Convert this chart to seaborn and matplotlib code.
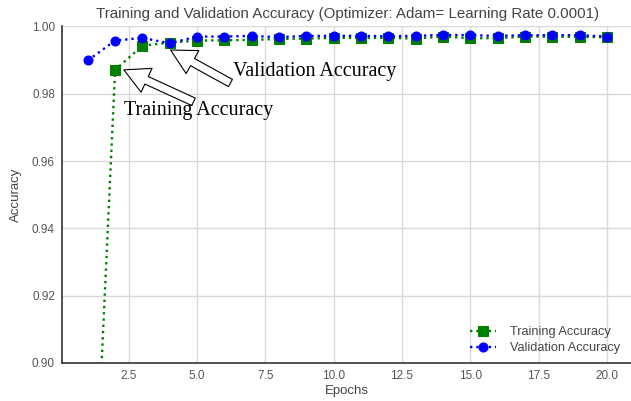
import matplotlib
matplotlib.use("Agg")
import matplotlib.pyplot as plt
import seaborn as sns
import pandas as pd

# Per-epoch accuracy history
epochs = list(range(1, 21))
train_acc = [0.8105, 0.9871, 0.9943, 0.9952, 0.9958, 0.9959, 0.9960, 0.9963, 0.9964, 0.9966,
             0.9966, 0.9966, 0.9964, 0.9970, 0.9965, 0.9965, 0.9970, 0.9970, 0.9969, 0.9968]
val_acc = [0.9899, 0.9958, 0.9966, 0.9950, 0.9970, 0.9970, 0.9972, 0.9968, 0.9972, 0.9972,
           0.9972, 0.9971, 0.9972, 0.9975, 0.9974, 0.9972, 0.9974, 0.9974, 0.9974, 0.9970]
y_ticks = [0.90, 0.92, 0.94, 0.96, 0.98, 1.00]

sns.set_theme(style="whitegrid")
plt.rcParams["font.family"] = ["Liberation Sans", "DejaVu Sans"]

df = pd.DataFrame({"Epochs": epochs, "train": train_acc, "val": val_acc})

fig = plt.figure(figsize=(6.31, 4.01), dpi=100)
ax = fig.add_axes([0.098, 0.095, 0.905, 0.839])

sns.lineplot(data=df, x="Epochs", y="train", ax=ax, color="green", marker="s",
             linestyle=":", linewidth=1.7, markersize=6.5, mec="green", mfc="green",
             label="Training Accuracy")
sns.lineplot(data=df, x="Epochs", y="val", ax=ax, color="blue", marker="o",
             linestyle=":", linewidth=1.7, markersize=6.5, mec="blue", mfc="blue",
             label="Validation Accuracy")

ax.set_ylim(0.90, 1.00)
ax.set_yticks(y_ticks)
ax.set_yticklabels([f"{v:.2f}" for v in y_ticks])
ax.grid(True, color="#d9d9d9", linewidth=1.0)
ax.tick_params(labelsize=8.5, colors="#555555", length=0, pad=5)

for side in ("top", "right"):
    ax.spines[side].set_visible(False)
for side in ("left", "bottom"):
    ax.spines[side].set_color("#333333")
    ax.spines[side].set_linewidth(1.2)

ax.set_xlabel("Epochs", fontsize=9.5, color="#444444", labelpad=2)
ax.set_ylabel("Accuracy", fontsize=9.5, color="#444444", labelpad=7)
ax.set_title("Training and Validation Accuracy (Optimizer: Adam= Learning Rate 0.0001)",
             fontsize=10.9, color="#444444", pad=6)

leg = ax.legend(loc="lower right", bbox_to_anchor=(1.001, 0.088),
                bbox_transform=fig.transFigure, frameon=False, fontsize=9.2,
                labelspacing=0.3, handletextpad=1.1)
for t in leg.get_texts():
    t.set_color("#444444")

# Callouts with hollow arrows
arrow = dict(arrowstyle="simple,head_length=1.0,head_width=1.05,tail_width=0.33",
             fc="white", ec="black", lw=0.8, mutation_scale=18, shrinkA=0, shrinkB=0)
serif = ["Liberation Serif", "DejaVu Serif"]

ax.annotate("", xy=(4.03, 0.9930), xytext=(6.22, 0.9832), arrowprops=arrow)
ax.text(6.33, 0.9865, "Validation Accuracy", fontsize=14.5, family=serif,
        va="center", ha="left", color="black")

ax.annotate("", xy=(2.32, 0.9871), xytext=(4.87, 0.9776), arrowprops=arrow)
ax.text(2.32, 0.9749, "Training Accuracy", fontsize=14.5, family=serif,
        va="center", ha="left", color="black")

fig.savefig("out.png", dpi=100)
